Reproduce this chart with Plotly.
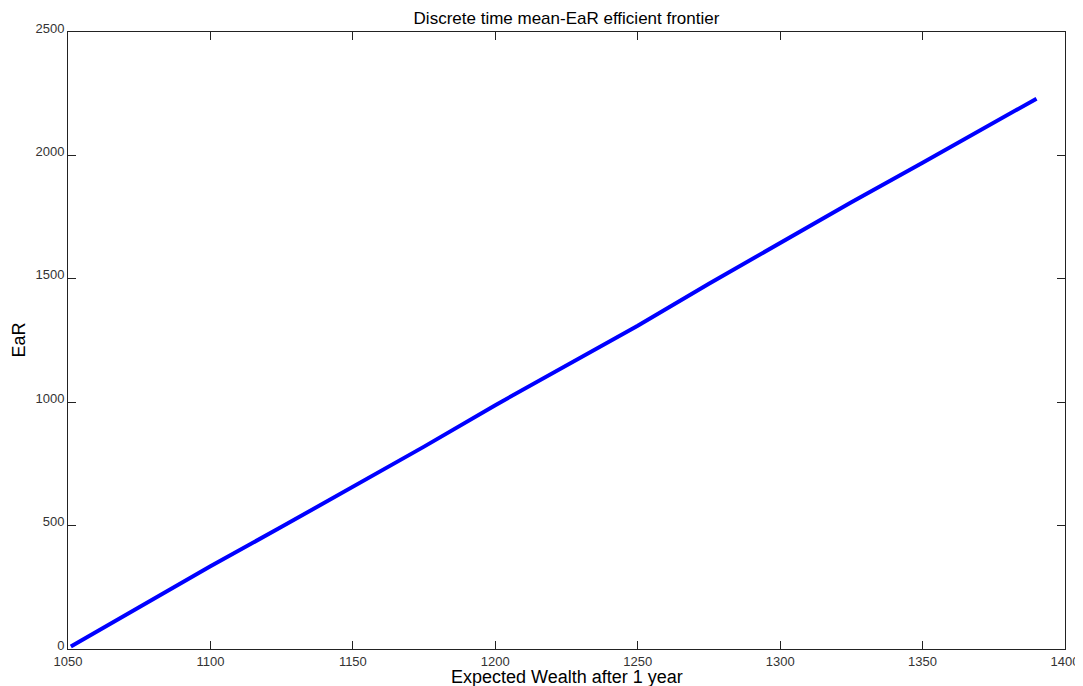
import plotly.graph_objects as go

expected_wealth = [1051, 1075, 1100, 1125, 1150, 1175, 1200, 1225, 1250, 1275, 1300, 1325, 1350, 1375, 1390]
ear = [10, 170, 335, 495, 656, 820, 988, 1150, 1310, 1480, 1645, 1810, 1970, 2130, 2230]

title_text = "Discrete time mean-EaR efficient frontier"
x_title = "Expected Wealth after 1 year"
y_title = "EaR"
x_ticks = [1050, 1100, 1150, 1200, 1250, 1300, 1350, 1400]
y_ticks = [0, 500, 1000, 1500, 2000, 2500]

fig = go.Figure()
fig.add_trace(go.Scatter(x=expected_wealth, y=ear, mode="lines",
                         line=dict(color="#0000ff", width=4), showlegend=False))

font_family = "Liberation Sans, Arial, sans-serif"
axis_common = dict(showgrid=False, zeroline=False, showline=True, linecolor="#222222",
                   linewidth=1, mirror="ticks", ticks="inside", ticklen=8, automargin=False,
                   tickcolor="#222222", tickfont=dict(family=font_family, size=13, color="#333333"))

W, H = 1075, 678
fig.update_layout(
    width=W, height=H,
    margin=dict(l=60, r=18, t=24, b=37, autoexpand=False),
    paper_bgcolor="white", plot_bgcolor="white",
    title=dict(text=title_text, x=0.5, xanchor="center", xref="paper",
               y=1 - 10 / H, yref="container", yanchor="middle",
               font=dict(family=font_family, size=17, color="#000000")),
    xaxis=dict(range=[1050, 1400], tickvals=x_ticks, ticktext=[str(v) for v in x_ticks],
               **axis_common),
    yaxis=dict(range=[0, 2500], tickvals=y_ticks, ticktext=[str(v) for v in y_ticks],
               ticklabelshift=-4, **axis_common),
    annotations=[
        dict(text=x_title, xref="paper", yref="paper", x=0.5, y=0, xanchor="center",
             yanchor="middle", yshift=-28, showarrow=False,
             font=dict(family=font_family, size=18, color="#000000")),
        dict(text=y_title, xref="paper", yref="paper", x=0, y=0.5, xanchor="center",
             yanchor="middle", xshift=-50, textangle=-90, showarrow=False,
             font=dict(family=font_family, size=18, color="#000000")),
    ],
)

fig.write_html("out.html")
